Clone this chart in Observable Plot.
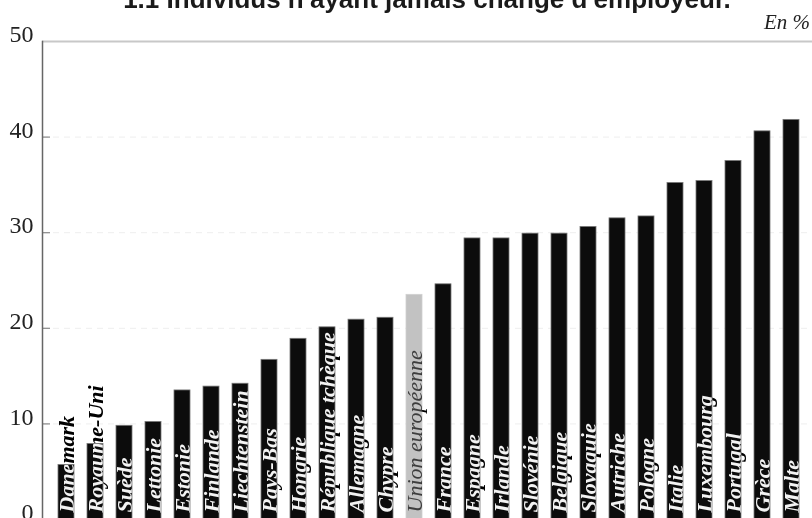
<!DOCTYPE html>
<html>
<head>
<meta charset="utf-8">
<script src="https://cdn.jsdelivr.net/npm/d3@7"></script>
<script src="https://cdn.jsdelivr.net/npm/@observablehq/plot@0.6"></script>
<style>
  html, body { margin: 0; padding: 0; background: white; overflow: hidden; }
  #wrap { position: relative; width: 812px; }
  #header { height: 10px; width: 812px; }
  #title { position: absolute; top: -14px; left: 42px; right: 0; text-align: center; z-index: 2;
           font-family: "Liberation Sans", Arial, sans-serif; font-weight: bold; font-size: 26px;
           line-height: 26px; color: #1a1a1a; white-space: nowrap; }
  #unit { position: absolute; top: 12px; right: 2px; z-index: 2; font-family: "Liberation Serif", serif;
          font-style: italic; font-size: 21px; line-height: 21px; color: #222; }
</style>
</head>
<body>
<div id="wrap">
  <div id="header">
    <div id="title">1.1 Individus n'ayant jamais changé d'employeur.</div>
    <div id="unit">En %</div>
  </div>
  <div id="chart"></div>
</div>
<script>
const countries = ["Danemark", "Royaume-Uni", "Suède", "Lettonie", "Estonie", "Finlande", "Liechtenstein",
  "Pays-Bas", "Hongrie", "République tchèque", "Allemagne", "Chypre", "Union européenne", "France",
  "Espagne", "Irlande", "Slovénie", "Belgique", "Slovaquie", "Autriche", "Pologne", "Italie",
  "Luxembourg", "Portugal", "Grèce", "Malte"];
const values = [5.7, 7.9, 9.8, 10.2, 13.5, 13.9, 14.2, 16.7, 18.9, 20.1, 20.9, 21.1, 23.5, 24.6,
  29.4, 29.4, 29.9, 29.9, 30.6, 31.5, 31.7, 35.2, 35.4, 37.5, 40.6, 41.8];
const highlight = "Union européenne";
const yTicks = [0, 10, 20, 30, 40, 50];

const data = countries.map((c, i) => ({country: c, value: values[i], eu: c === highlight}));

const W = 812, ML = 42, MR = 0;
const chart = Plot.plot({
  width: W,
  height: 509,
  marginTop: 31,
  marginBottom: 0,
  marginLeft: ML,
  marginRight: MR,
  style: {background: "transparent"},
  x: {domain: countries, range: [42, 815], paddingInner: 0.44, paddingOuter: 0.26, axis: null},
  y: {domain: [0, 50], axis: null, label: null},
  marks: [
    Plot.ruleY([10, 20, 30, 40], {stroke: "#eeeeee", strokeDasharray: "6,5"}),
    Plot.barY(data, {x: "country", y: "value", fill: d => d.eu ? "#c2c2c2" : "#0c0c0c",
      stroke: d => d.eu ? "#d0d0d0" : "#777", strokeWidth: 0.8}),
    Plot.text(data.filter(d => !d.eu), {x: "country", y: 0, text: "country", rotate: -90,
      textAnchor: "start", dy: -7, fill: "white", fontFamily: "Liberation Serif, serif",
      fontStyle: "italic", fontWeight: "bold", fontSize: 22, mixBlendMode: "difference"}),
    Plot.text(data.filter(d => d.eu), {x: "country", y: 0, text: "country", rotate: -90,
      textAnchor: "start", dy: -7, fill: "white", fontFamily: "Liberation Serif, serif",
      fontStyle: "italic", fontWeight: "normal", fontSize: 22, mixBlendMode: "difference"}),
    Plot.ruleY([50], {stroke: "#c8c8c8", strokeWidth: 2}),
    Plot.ruleY([10, 20, 30, 40], {stroke: "#888", strokeWidth: 1.2, insetRight: (W - ML - MR) - 8}),
    Plot.frame({anchor: "left", stroke: "#666", strokeWidth: 1.5}),
    Plot.axisY(yTicks, {tickSize: 0, tickPadding: 9, dy: -7, fontSize: 24, label: null,
      fontFamily: "Liberation Serif, serif", fill: "#222"})
  ]
});
document.getElementById("chart").appendChild(chart);
</script>
</body>
</html>
